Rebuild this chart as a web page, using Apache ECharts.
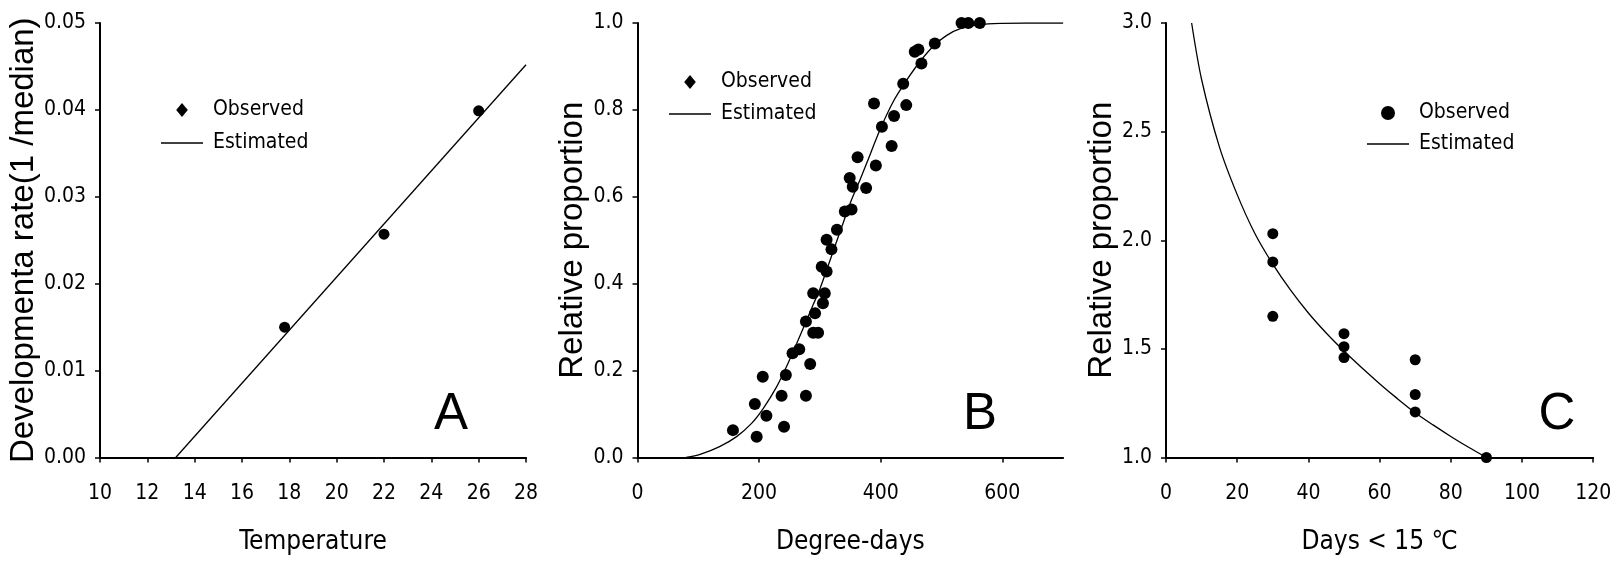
<!DOCTYPE html>
<html>
<head>
<meta charset="utf-8">
<script src="https://cdn.jsdelivr.net/npm/echarts@6/dist/echarts.min.js"></script>
<style>
html,body{margin:0;padding:0;background:#fff;}
#c{width:1618px;height:563px;}
</style>
</head>
<body>
<div id="c"></div>
<script>
// ---- Panel A data ----
const aObsX = [17.8, 22.0, 26.0];
const aObsY = [0.0150, 0.0257, 0.0399];
const aEstX = [13.2, 28.0];
const aEstY = [0.0, 0.0452];
const aXTicks = [10, 12, 14, 16, 18, 20, 22, 24, 26, 28];
const aYTicks = [0, 0.01, 0.02, 0.03, 0.04, 0.05];

// ---- Panel B data ----
const bObsX = [533, 544, 563, 489, 456, 462, 467, 437, 389, 442, 422, 402, 418, 362, 392,
  349, 354, 376, 341, 352, 328, 311, 319, 303, 311, 289, 308, 305,
  292, 277, 289, 297, 255, 266, 284, 206, 244, 237, 277, 193, 212, 157, 241, 196];
const bObsY = [1.0, 1.0, 1.0, 0.953, 0.934, 0.939, 0.907, 0.860, 0.815, 0.811, 0.786, 0.761, 0.717, 0.691, 0.672,
  0.643, 0.623, 0.620, 0.566, 0.571, 0.524, 0.501, 0.479, 0.439, 0.428, 0.378, 0.378, 0.355,
  0.332, 0.313, 0.287, 0.287, 0.240, 0.249, 0.215, 0.186, 0.190, 0.142, 0.142, 0.123, 0.096, 0.063, 0.071, 0.048];
const bEstX = [80, 103, 135, 163, 188, 207, 229, 245, 262, 276, 289, 300, 317, 336, 352, 366, 378, 399, 421, 443, 465, 487, 508, 533, 563, 596, 640, 700];
const bEstY = [0, 0.007, 0.025, 0.048, 0.079, 0.113, 0.163, 0.209, 0.263, 0.309, 0.352, 0.388, 0.455, 0.531, 0.593, 0.639, 0.681, 0.755, 0.820, 0.869, 0.912, 0.947, 0.971, 0.988, 0.996, 0.999, 1.0, 1.0];
const bXTicks = [0, 200, 400, 600];
const bYTicks = [0, 0.2, 0.4, 0.6, 0.8, 1.0];

// ---- Panel C data ----
const cObsX = [30, 30, 30, 50, 50, 50, 70, 70, 70, 90];
const cObsY = [2.03, 1.90, 1.65, 1.57, 1.51, 1.46, 1.45, 1.29, 1.21, 1.0];
const cEstX = [7.2, 10, 15, 20, 25, 30, 35, 40, 45, 50, 55, 60, 65, 70, 75, 80, 85, 90];
const cEstY = [3.0, 2.74, 2.43, 2.21, 2.03, 1.89, 1.77, 1.665, 1.573, 1.49, 1.413, 1.340, 1.271, 1.206, 1.150, 1.097, 1.047, 1.0];
const cXTicks = [0, 20, 40, 60, 80, 100, 120];
const cYTicks = [1.0, 1.5, 2.0, 2.5, 3.0];

const panelLetters = ['A', 'B', 'C'];
const xTitles = ['Temperature', 'Degree-days', 'Days < 15 \u2103'];
const yTitles = ['Developmenta rate(1 /median)', 'Relative proportion', 'Relative proportion'];
const legendNames = ['Observed', 'Estimated'];

const zip = (xs, ys) => xs.map((x, i) => [x, ys[i]]);

const NARROW = "'Liberation Sans Narrow','DejaVu Sans Condensed','Arial Narrow',sans-serif";
const SANS = "'Liberation Sans',Arial,sans-serif";

const grids = [
  {left: 100, top: 23, width: 426, height: 434.5},
  {left: 637.5, top: 23, width: 425.6, height: 434.5},
  {left: 1166, top: 23, width: 427.2, height: 434.5}
];

function xAxis(i, min, max, interval, ticks, digits) {
  return {
    type: 'value', gridIndex: i, min: min, max: max, interval: interval,
    name: xTitles[i], nameLocation: 'middle', nameGap: 72,
    nameTextStyle: {fontFamily: NARROW, fontSize: 26, color: '#000'},
    axisLine: {show: true, onZero: false, lineStyle: {color: '#000', width: 2}},
    axisTick: {show: true, inside: false, length: 5, lineStyle: {color: '#000', width: 1.5}, customValues: ticks},
    axisLabel: {margin: 26, fontFamily: NARROW, fontSize: 21, color: '#000', customValues: ticks,
      formatter: v => v.toFixed(digits)},
    splitLine: {show: false}
  };
}
function yAxis(i, min, max, interval, ticks, digits, gap) {
  return {
    type: 'value', gridIndex: i, min: min, max: max, interval: interval,
    name: yTitles[i], nameLocation: 'middle', nameGap: gap, nameRotate: 90,
    nameTextStyle: {fontFamily: SANS, fontSize: 33, color: '#000'},
    axisLine: {show: true, onZero: false, lineStyle: {color: '#000', width: 2}},
    axisTick: {show: true, inside: false, length: 5, lineStyle: {color: '#000', width: 1.5}, customValues: ticks},
    axisLabel: {margin: 14, fontFamily: NARROW, fontSize: 21, color: '#000', customValues: ticks,
      formatter: v => v.toFixed(digits)},
    splitLine: {show: false}
  };
}

const ICON_DIAMOND = 'path://M5,0L10,6L5,12L0,6Z';
const ICON_LINE = 'path://M0,0L100,0L100,3L0,3Z';

function legend(left, top, gap, obsIcon) {
  return {
    orient: 'vertical', left: left, top: top, padding: 0, itemGap: gap,
    itemWidth: 42, itemHeight: 14, selectedMode: false, symbolKeepAspect: true,
    textStyle: {fontFamily: NARROW, fontSize: 21, lineHeight: 24, color: '#000', padding: [0, 0, 0, 5]},
    data: [{name: legendNames[0], icon: obsIcon}, {name: legendNames[1], icon: ICON_LINE}]
  };
}

function obsSeries(i, data, size, sym) {
  return {type: 'scatter', name: legendNames[0], xAxisIndex: i, yAxisIndex: i, data: data,
    symbol: sym, symbolSize: size, itemStyle: {color: '#000', opacity: 1}, z: 3};
}
function estSeries(i, data, smooth) {
  return {type: 'line', name: legendNames[1], xAxisIndex: i, yAxisIndex: i, data: data,
    symbol: 'none', smooth: smooth, lineStyle: {color: '#000', width: 1.3}, itemStyle: {color: '#000'}, z: 2};
}

const letterPos = [[451, 415], [980, 415], [1557, 415]];

const option = {
  backgroundColor: '#fff',
  animation: false,
  grid: grids,
  xAxis: [
    xAxis(0, 10, 28, 2, aXTicks, 0),
    xAxis(1, 0, 700, 200, bXTicks, 0),
    xAxis(2, 0, 120, 20, cXTicks, 0)
  ],
  yAxis: [
    yAxis(0, 0, 0.05, 0.01, aYTicks, 2, 53),
    yAxis(1, 0, 1, 0.2, bYTicks, 1, 37),
    yAxis(2, 1, 3, 0.5, cYTicks, 1, 37)
  ],
  legend: [
    legend(161, 98, 9, ICON_DIAMOND),
    legend(669, 70, 8, ICON_DIAMOND),
    legend(1367, 101, 7, 'circle')
  ],
  series: [
    estSeries(0, zip(aEstX, aEstY), false),
    obsSeries(0, zip(aObsX, aObsY), 11, 'circle'),
    estSeries(1, zip(bEstX, bEstY), 0.3),
    obsSeries(1, zip(bObsX, bObsY), 12, 'circle'),
    estSeries(2, zip(cEstX, cEstY), 0.3),
    obsSeries(2, zip(cObsX, cObsY), 11, 'circle')
  ],
  graphic: panelLetters.map((t, i) => ({
    type: 'text', x: letterPos[i][0], y: letterPos[i][1],
    style: {text: t, font: '51px ' + SANS, fill: '#000', align: 'center', verticalAlign: 'middle'}
  }))
};

const chart = echarts.init(document.getElementById('c'), null, {renderer: 'canvas'});
chart.setOption(option);
</script>
</body>
</html>
